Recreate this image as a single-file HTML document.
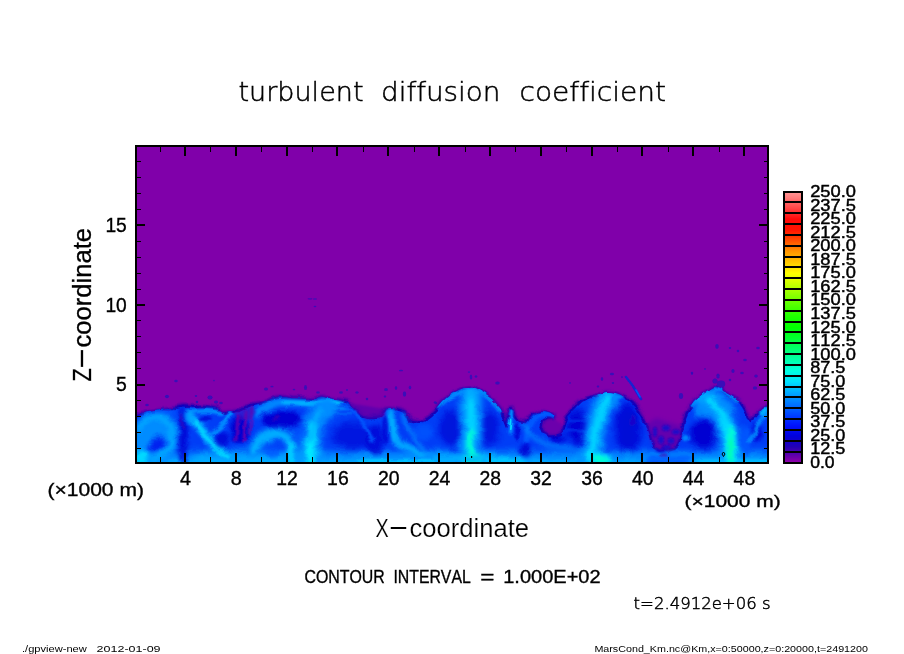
<!DOCTYPE html>
<html lang="en"><head><meta charset="utf-8"><title>turbulent diffusion coefficient</title>
<style>
html,body{margin:0;padding:0;background:#fff;}
body{width:904px;height:654px;overflow:hidden;}
svg{display:block;}
text{font-family:"Liberation Sans",sans-serif;fill:#000;}
text{font-variant-ligatures:none;font-kerning:none;}
.thin{font-family:"DejaVu Sans Light","DejaVu Sans","Liberation Sans",sans-serif;font-weight:200;}
</style>
</head><body>
<svg width="904" height="654" viewBox="0 0 904 654">
<rect x="0" y="0" width="904" height="654" fill="#fff"/>
<defs>
<clipPath id="plotclip"><rect x="136" y="146" width="632" height="317"/></clipPath>
<filter id="b1" filterUnits="userSpaceOnUse" x="120" y="140" width="664" height="340"><feGaussianBlur stdDeviation="1"/></filter>
<filter id="b2" filterUnits="userSpaceOnUse" x="120" y="140" width="664" height="340"><feGaussianBlur stdDeviation="2"/></filter>
<filter id="b3" filterUnits="userSpaceOnUse" x="120" y="140" width="664" height="340"><feGaussianBlur stdDeviation="3"/></filter>
<filter id="rag" filterUnits="userSpaceOnUse" x="130" y="330" width="644" height="140"><feTurbulence type="fractalNoise" baseFrequency="0.06 0.08" numOctaves="3" seed="7" result="n"/><feDisplacementMap in="SourceGraphic" in2="n" scale="6.5" xChannelSelector="R" yChannelSelector="G"/></filter>
<filter id="b05" filterUnits="userSpaceOnUse" x="120" y="140" width="664" height="340"><feGaussianBlur stdDeviation="0.6"/></filter>
<clipPath id="blueclip"><path d="M128,472 L128,414 L136,414 L142,413 L146,411.5 L152,410.5 L158,409.6 L165,408.6 L172,407.4 L178,406.5 L183,405.4 L192,406 L200.8,406.3 L208,407 L215,408 L223.8,411.6 L232.7,410.7 L239.7,409.8 L245,407.5 L250,405.4 L255,404.5 L261,403.6 L266,401.5 L271.6,399 L276,397.5 L280,396.5 L285,397 L290,398.3 L297.7,398.3 L306,398.8 L315.4,399 L319,397.5 L322.5,396.5 L327,397.8 L333,399 L340,400 L347,401 L350.5,404 L354,407 L357.5,410.5 L361,414 L365,416 L368.5,417 L374,417 L379,416 L382,412 L386,408 L390,407.5 L395,408 L400,409 L404,410.7 L407.5,415 L411,419.5 L416,420.5 L421.6,421 L426,419 L430,416 L434.5,411.5 L439,407 L443,402 L447.7,397.4 L452,394.5 L456.5,392 L461,390 L465.4,388.6 L469,388 L472.5,387.7 L478,390 L483,393 L487.5,396 L492,399 L496.5,404 L500.8,409 L503.5,415 L506,421.3 L508,416 L509.6,409 L511,406.5 L512.3,406 L513.5,410 L515,416 L517.5,419 L520,421 L523,421.5 L525.6,422 L529,418.5 L532.7,414 L536,412 L539.7,410.7 L545,411 L550,412.5 L553.5,415 L552.5,418 L547,418.5 L543,421 L541.5,427 L544,432 L549,435 L556,435.5 L561,433 L563.5,427 L565,420 L567.4,415.5 L569.5,413 L571.6,410.7 L576,406 L580,402 L584.5,399 L589,396.5 L593.5,395.5 L597.7,394.8 L602,393.2 L606.5,392 L611,392.3 L615.4,393 L620,394.5 L624,396.5 L628.5,399 L633,402 L636.5,406 L640,410.7 L643,416 L645.5,421 L648,426 L650.5,432 L652,440 L655,447 L660,449.5 L664,446.5 L668,449.5 L673,448 L677,444 L680,436 L681.5,428 L682.6,421 L686,412.5 L689.5,407 L693,402 L696.5,399 L700,396.5 L703.5,393.5 L707,391 L711,388 L714.5,386 L718,386.5 L721.6,387.7 L722.8,392 L727,394 L731.4,396.4 L736,399.5 L740,402.8 L743.5,408 L746.4,413.5 L748.5,417 L750.7,420 L753,418 L755,415.7 L758,412 L761.4,409 L764,407 L768,406 L776,406 L776,472 Z"/></clipPath>
</defs>
<g clip-path="url(#plotclip)">
<rect x="136" y="146" width="632" height="317" fill="#8000AA"/>
<g filter="url(#rag)">
<path d="M128,472 L128,414 L136,414 L142,413 L146,411.5 L152,410.5 L158,409.6 L165,408.6 L172,407.4 L178,406.5 L183,405.4 L192,406 L200.8,406.3 L208,407 L215,408 L223.8,411.6 L232.7,410.7 L239.7,409.8 L245,407.5 L250,405.4 L255,404.5 L261,403.6 L266,401.5 L271.6,399 L276,397.5 L280,396.5 L285,397 L290,398.3 L297.7,398.3 L306,398.8 L315.4,399 L319,397.5 L322.5,396.5 L327,397.8 L333,399 L340,400 L347,401 L350.5,404 L354,407 L357.5,410.5 L361,414 L365,416 L368.5,417 L374,417 L379,416 L382,412 L386,408 L390,407.5 L395,408 L400,409 L404,410.7 L407.5,415 L411,419.5 L416,420.5 L421.6,421 L426,419 L430,416 L434.5,411.5 L439,407 L443,402 L447.7,397.4 L452,394.5 L456.5,392 L461,390 L465.4,388.6 L469,388 L472.5,387.7 L478,390 L483,393 L487.5,396 L492,399 L496.5,404 L500.8,409 L503.5,415 L506,421.3 L508,416 L509.6,409 L511,406.5 L512.3,406 L513.5,410 L515,416 L517.5,419 L520,421 L523,421.5 L525.6,422 L529,418.5 L532.7,414 L536,412 L539.7,410.7 L545,411 L550,412.5 L553.5,415 L552.5,418 L547,418.5 L543,421 L541.5,427 L544,432 L549,435 L556,435.5 L561,433 L563.5,427 L565,420 L567.4,415.5 L569.5,413 L571.6,410.7 L576,406 L580,402 L584.5,399 L589,396.5 L593.5,395.5 L597.7,394.8 L602,393.2 L606.5,392 L611,392.3 L615.4,393 L620,394.5 L624,396.5 L628.5,399 L633,402 L636.5,406 L640,410.7 L643,416 L645.5,421 L648,426 L650.5,432 L652,440 L655,447 L660,449.5 L664,446.5 L668,449.5 L673,448 L677,444 L680,436 L681.5,428 L682.6,421 L686,412.5 L689.5,407 L693,402 L696.5,399 L700,396.5 L703.5,393.5 L707,391 L711,388 L714.5,386 L718,386.5 L721.6,387.7 L722.8,392 L727,394 L731.4,396.4 L736,399.5 L740,402.8 L743.5,408 L746.4,413.5 L748.5,417 L750.7,420 L753,418 L755,415.7 L758,412 L761.4,409 L764,407 L768,406 L776,406 L776,472 Z" fill="#2400B4" stroke="#3A00B0" stroke-width="3" stroke-linejoin="round" filter="url(#b1)"/>
<g clip-path="url(#blueclip)">
<path d="M128,472 L128,414 L136,414 L142,413 L146,411.5 L152,410.5 L158,409.6 L165,408.6 L172,407.4 L178,406.5 L183,405.4 L192,406 L200.8,406.3 L208,407 L215,408 L223.8,411.6 L232.7,410.7 L239.7,409.8 L245,407.5 L250,405.4 L255,404.5 L261,403.6 L266,401.5 L271.6,399 L276,397.5 L280,396.5 L285,397 L290,398.3 L297.7,398.3 L306,398.8 L315.4,399 L319,397.5 L322.5,396.5 L327,397.8 L333,399 L340,400 L347,401 L350.5,404 L354,407 L357.5,410.5 L361,414 L365,416 L368.5,417 L374,417 L379,416 L382,412 L386,408 L390,407.5 L395,408 L400,409 L404,410.7 L407.5,415 L411,419.5 L416,420.5 L421.6,421 L426,419 L430,416 L434.5,411.5 L439,407 L443,402 L447.7,397.4 L452,394.5 L456.5,392 L461,390 L465.4,388.6 L469,388 L472.5,387.7 L478,390 L483,393 L487.5,396 L492,399 L496.5,404 L500.8,409 L503.5,415 L506,421.3 L508,416 L509.6,409 L511,406.5 L512.3,406 L513.5,410 L515,416 L517.5,419 L520,421 L523,421.5 L525.6,422 L529,418.5 L532.7,414 L536,412 L539.7,410.7 L545,411 L550,412.5 L553.5,415 L552.5,418 L547,418.5 L543,421 L541.5,427 L544,432 L549,435 L556,435.5 L561,433 L563.5,427 L565,420 L567.4,415.5 L569.5,413 L571.6,410.7 L576,406 L580,402 L584.5,399 L589,396.5 L593.5,395.5 L597.7,394.8 L602,393.2 L606.5,392 L611,392.3 L615.4,393 L620,394.5 L624,396.5 L628.5,399 L633,402 L636.5,406 L640,410.7 L643,416 L645.5,421 L648,426 L650.5,432 L652,440 L655,447 L660,449.5 L664,446.5 L668,449.5 L673,448 L677,444 L680,436 L681.5,428 L682.6,421 L686,412.5 L689.5,407 L693,402 L696.5,399 L700,396.5 L703.5,393.5 L707,391 L711,388 L714.5,386 L718,386.5 L721.6,387.7 L722.8,392 L727,394 L731.4,396.4 L736,399.5 L740,402.8 L743.5,408 L746.4,413.5 L748.5,417 L750.7,420 L753,418 L755,415.7 L758,412 L761.4,409 L764,407 L768,406 L776,406 L776,472 Z" fill="#003CF6" stroke="#1800B8" stroke-width="4.5" filter="url(#b05)"/>
<path d="M128,457 L776,457" fill="none" stroke="#008CFF" stroke-width="11" stroke-linecap="round" stroke-linejoin="round" filter="url(#b3)" opacity="1"/>
<path d="M128,462.5 L640,462.5" fill="none" stroke="#00B0FF" stroke-width="6" stroke-linecap="round" stroke-linejoin="round" filter="url(#b2)" opacity="1"/>
<path d="M690,462.5 L776,462.5" fill="none" stroke="#00B0FF" stroke-width="6" stroke-linecap="round" stroke-linejoin="round" filter="url(#b2)" opacity="1"/>
<ellipse cx="156" cy="437" rx="23" ry="27" fill="#008CFF" filter="url(#b3)" opacity="1"/>
<path d="M139,430 Q142,418 158,416 Q172,420 172,440 Q170,456 152,459" fill="none" stroke="#00B0FF" stroke-width="5" stroke-linecap="round" stroke-linejoin="round" filter="url(#b2)" opacity="0.8"/>
<ellipse cx="156" cy="445" rx="10" ry="6" fill="#0024F0" filter="url(#b2)" opacity="1" transform="rotate(-35 156 445)"/>
<ellipse cx="141" cy="457" rx="7" ry="8" fill="#00D8FF" filter="url(#b2)" opacity="1"/>
<path d="M137,408 L141,408" fill="none" stroke="#00B0FF" stroke-width="3" stroke-linecap="round" stroke-linejoin="round" filter="url(#b1)" opacity="1"/>
<path d="M146,412 Q160,409 174,411" fill="none" stroke="#005AFF" stroke-width="4" stroke-linecap="round" stroke-linejoin="round" filter="url(#b2)" opacity="1"/>
<ellipse cx="183" cy="436" rx="4" ry="30" fill="#0004D2" filter="url(#b2)" opacity="0.85"/>
<path d="M181,415 L183,428" fill="none" stroke="#4A00B4" stroke-width="2" stroke-linecap="round" stroke-linejoin="round" filter="url(#b1)" opacity="0.7"/>
<path d="M190,413 Q204,409 222,413" fill="none" stroke="#008CFF" stroke-width="4" stroke-linecap="round" stroke-linejoin="round" filter="url(#b1)" opacity="1"/>
<path d="M189,415 Q203,428 212,444 Q222,455 240,459" fill="none" stroke="#008CFF" stroke-width="10" stroke-linecap="round" stroke-linejoin="round" filter="url(#b2)" opacity="1"/>
<path d="M190,416 Q204,430 213,445 Q221,452 230,455" fill="none" stroke="#00B0FF" stroke-width="5" stroke-linecap="round" stroke-linejoin="round" filter="url(#b2)" opacity="1"/>
<path d="M200,459 L300,459" fill="none" stroke="#00B0FF" stroke-width="8" stroke-linecap="round" stroke-linejoin="round" filter="url(#b3)" opacity="0.8"/>
<path d="M195,422 Q207,436 214,447 Q220,452 228,455" fill="none" stroke="#00D8FF" stroke-width="3.2" stroke-linecap="round" stroke-linejoin="round" filter="url(#b1)" opacity="0.95"/>
<path d="M230,413 Q225,425 213,433" fill="none" stroke="#008CFF" stroke-width="4.5" stroke-linecap="round" stroke-linejoin="round" filter="url(#b1)" opacity="1"/>
<ellipse cx="205" cy="419" rx="7" ry="3" fill="#0004D2" filter="url(#b1)" opacity="0.7"/>
<ellipse cx="222" cy="440" rx="7" ry="8" fill="#0004D2" filter="url(#b2)" opacity="0.8"/>
<ellipse cx="240" cy="430" rx="10" ry="14" fill="#0004D2" filter="url(#b2)" opacity="1"/>
<path d="M238,416 L236,440" fill="none" stroke="#8000AA" stroke-width="2.6" stroke-linecap="round" stroke-linejoin="round" filter="url(#b1)" opacity="0.8"/>
<path d="M246,412 L244,442" fill="none" stroke="#8000AA" stroke-width="2.8" stroke-linecap="round" stroke-linejoin="round" filter="url(#b1)" opacity="0.85"/>
<path d="M252,408 L250,434" fill="none" stroke="#8000AA" stroke-width="2.4" stroke-linecap="round" stroke-linejoin="round" filter="url(#b1)" opacity="0.7"/>
<path d="M258,414 Q268,404 282,402 Q300,402 312,404 L334,402" fill="none" stroke="#008CFF" stroke-width="7" stroke-linecap="round" stroke-linejoin="round" filter="url(#b2)" opacity="1"/>
<path d="M284,402.5 Q300,402 312,404 L336,402.5" fill="none" stroke="#00B0FF" stroke-width="3.5" stroke-linecap="round" stroke-linejoin="round" filter="url(#b1)" opacity="1"/>
<path d="M300,403.5 L340,403" fill="none" stroke="#00B0FF" stroke-width="2.5" stroke-linecap="round" stroke-linejoin="round" filter="url(#b1)" opacity="1"/>
<path d="M320,402.5 L343,402.5" fill="none" stroke="#00D8FF" stroke-width="2" stroke-linecap="round" stroke-linejoin="round" filter="url(#b1)" opacity="1"/>
<path d="M324,407 L345,407" fill="none" stroke="#00D8FF" stroke-width="1.5" stroke-linecap="round" stroke-linejoin="round" filter="url(#b1)" opacity="0.6"/>
<path d="M318,408 L350,408" fill="none" stroke="#008CFF" stroke-width="2.5" stroke-linecap="round" stroke-linejoin="round" filter="url(#b1)" opacity="0.8"/>
<path d="M322,413 L352,413" fill="none" stroke="#008CFF" stroke-width="2" stroke-linecap="round" stroke-linejoin="round" filter="url(#b1)" opacity="0.6"/>
<ellipse cx="282" cy="420" rx="21" ry="9" fill="#0004D2" filter="url(#b2)" opacity="1"/>
<ellipse cx="275" cy="417" rx="3" ry="2" fill="#4A00B4" filter="url(#b1)" opacity="0.6"/>
<path d="M254,450 Q260,436 276,433 Q290,434 293,447 L292,462" fill="none" stroke="#008CFF" stroke-width="11" stroke-linecap="round" stroke-linejoin="round" filter="url(#b3)" opacity="1"/>
<path d="M254,450 Q260,436 276,433 Q290,434 293,447 L292,462" fill="none" stroke="#00B0FF" stroke-width="6.5" stroke-linecap="round" stroke-linejoin="round" filter="url(#b2)" opacity="1"/>
<path d="M292.5,444 L291,462" fill="none" stroke="#00D8FF" stroke-width="4.5" stroke-linecap="round" stroke-linejoin="round" filter="url(#b2)" opacity="1"/>
<ellipse cx="272" cy="452" rx="7" ry="5" fill="#005AFF" filter="url(#b2)" opacity="0.8"/>
<path d="M310,462 Q310,436 316,420 Q320,412 327,408" fill="none" stroke="#008CFF" stroke-width="21" stroke-linecap="round" stroke-linejoin="round" filter="url(#b3)" opacity="1"/>
<path d="M310,462 L310,440" fill="none" stroke="#00B0FF" stroke-width="14" stroke-linecap="round" stroke-linejoin="round" filter="url(#b3)" opacity="1"/>
<path d="M310,464 Q310.5,440 312,426" fill="none" stroke="#00D8FF" stroke-width="9" stroke-linecap="round" stroke-linejoin="round" filter="url(#b2)" opacity="1"/>
<path d="M310,464 L310,444" fill="none" stroke="#00F0FF" stroke-width="4" stroke-linecap="round" stroke-linejoin="round" filter="url(#b2)" opacity="1"/>
<path d="M310.5,438 Q312,424 320,412" fill="none" stroke="#00B0FF" stroke-width="4" stroke-linecap="round" stroke-linejoin="round" filter="url(#b2)" opacity="1"/>
<ellipse cx="300" cy="432" rx="5" ry="10" fill="#005AFF" filter="url(#b2)" opacity="0.6"/>
<ellipse cx="352" cy="436" rx="20" ry="14" fill="#0004D2" filter="url(#b3)" opacity="0.6"/>
<ellipse cx="375" cy="440" rx="9" ry="16" fill="#0004D2" filter="url(#b2)" opacity="0.75"/>
<path d="M348,404 Q362,420 374,440" fill="none" stroke="#005AFF" stroke-width="3.5" stroke-linecap="round" stroke-linejoin="round" filter="url(#b1)" opacity="0.9"/>
<path d="M391,411 Q391,432 397,442 Q410,452 432,456" fill="none" stroke="#008CFF" stroke-width="8" stroke-linecap="round" stroke-linejoin="round" filter="url(#b2)" opacity="1"/>
<path d="M391.5,413 Q391.5,432 397,442 Q408,451 424,455" fill="none" stroke="#00B0FF" stroke-width="4" stroke-linecap="round" stroke-linejoin="round" filter="url(#b2)" opacity="1"/>
<path d="M392,420 L393,440" fill="none" stroke="#00B0FF" stroke-width="2.5" stroke-linecap="round" stroke-linejoin="round" filter="url(#b1)" opacity="0.8"/>
<path d="M404,414 Q407,432 424,448" fill="none" stroke="#008CFF" stroke-width="4" stroke-linecap="round" stroke-linejoin="round" filter="url(#b2)" opacity="0.9"/>
<ellipse cx="385" cy="430" rx="3" ry="14" fill="#0004D2" filter="url(#b1)" opacity="0.7"/>
<ellipse cx="424" cy="432" rx="10" ry="7" fill="#005AFF" filter="url(#b2)" opacity="0.7"/>
<path d="M360,461.5 L434,461.5" fill="none" stroke="#00D8FF" stroke-width="2.5" stroke-linecap="round" stroke-linejoin="round" filter="url(#b1)" opacity="0.8"/>
<ellipse cx="452" cy="428" rx="13" ry="18" fill="#0004D2" filter="url(#b3)" opacity="0.7"/>
<ellipse cx="489" cy="428" rx="10" ry="18" fill="#0004D2" filter="url(#b3)" opacity="0.7"/>
<path d="M439,407 Q450,396 462,392.5" fill="none" stroke="#008CFF" stroke-width="4" stroke-linecap="round" stroke-linejoin="round" filter="url(#b1)" opacity="1"/>
<path d="M480,392.5 Q492,398 501,411" fill="none" stroke="#008CFF" stroke-width="4" stroke-linecap="round" stroke-linejoin="round" filter="url(#b1)" opacity="1"/>
<path d="M471,462 L471,396" fill="none" stroke="#008CFF" stroke-width="22" stroke-linecap="round" stroke-linejoin="round" filter="url(#b3)" opacity="1"/>
<path d="M471,462 L471,394" fill="none" stroke="#00B0FF" stroke-width="11" stroke-linecap="round" stroke-linejoin="round" filter="url(#b3)" opacity="1"/>
<path d="M471,462 L471,402" fill="none" stroke="#00D8FF" stroke-width="6" stroke-linecap="round" stroke-linejoin="round" filter="url(#b2)" opacity="1"/>
<path d="M471,462 L471,432" fill="none" stroke="#00FFD2" stroke-width="5.5" stroke-linecap="round" stroke-linejoin="round" filter="url(#b2)" opacity="1"/>
<ellipse cx="472" cy="459" rx="11" ry="5.5" fill="#00FFD2" filter="url(#b2)" opacity="1"/>
<ellipse cx="472" cy="460" rx="6" ry="3.5" fill="#00FFB4" filter="url(#b2)" opacity="1"/>
<path d="M436,458.5 L506,458.5" fill="none" stroke="#00B0FF" stroke-width="6" stroke-linecap="round" stroke-linejoin="round" filter="url(#b2)" opacity="1"/>
<path d="M488,461 L522,461" fill="none" stroke="#00D8FF" stroke-width="3.5" stroke-linecap="round" stroke-linejoin="round" filter="url(#b2)" opacity="1"/>
<path d="M511.5,411 L509.5,434" fill="none" stroke="#008CFF" stroke-width="3.5" stroke-linecap="round" stroke-linejoin="round" filter="url(#b1)" opacity="1"/>
<path d="M510.5,420 L509.8,430" fill="none" stroke="#00D8FF" stroke-width="1.8" stroke-linecap="round" stroke-linejoin="round" filter="url(#b05)" opacity="1"/>
<ellipse cx="525" cy="450" rx="5" ry="7" fill="#0004D2" filter="url(#b2)" opacity="0.9"/>
<ellipse cx="517" cy="432" rx="3" ry="9" fill="#0004D2" filter="url(#b1)" opacity="0.8"/>
<path d="M527,440 Q530,420 539,414 Q547,412 554,416" fill="none" stroke="#005AFF" stroke-width="5" stroke-linecap="round" stroke-linejoin="round" filter="url(#b1)" opacity="1"/>
<path d="M524,426 Q535,442 550,446 L582,449" fill="none" stroke="#008CFF" stroke-width="4" stroke-linecap="round" stroke-linejoin="round" filter="url(#b2)" opacity="0.8"/>
<ellipse cx="558" cy="438" rx="8" ry="5" fill="#0004D2" filter="url(#b2)" opacity="0.8"/>
<ellipse cx="578" cy="428" rx="11" ry="18" fill="#0004D2" filter="url(#b3)" opacity="0.95"/>
<path d="M570,420 L588,420" fill="none" stroke="#005AFF" stroke-width="2" stroke-linecap="round" stroke-linejoin="round" filter="url(#b1)" opacity="0.6"/>
<path d="M568,432 L590,432" fill="none" stroke="#005AFF" stroke-width="2" stroke-linecap="round" stroke-linejoin="round" filter="url(#b1)" opacity="0.6"/>
<path d="M590,462 Q593,440 599,416 Q603,403 609,395" fill="none" stroke="#008CFF" stroke-width="20" stroke-linecap="round" stroke-linejoin="round" filter="url(#b3)" opacity="1"/>
<path d="M590,462 Q593,440 599,416 Q603,403 609,395" fill="none" stroke="#00B0FF" stroke-width="10" stroke-linecap="round" stroke-linejoin="round" filter="url(#b3)" opacity="1"/>
<path d="M591,456 Q594,438 599.5,416 Q603.5,403 608.5,397" fill="none" stroke="#00D8FF" stroke-width="5.5" stroke-linecap="round" stroke-linejoin="round" filter="url(#b2)" opacity="1"/>
<ellipse cx="598" cy="458" rx="13" ry="6" fill="#00D8FF" filter="url(#b2)" opacity="1"/>
<ellipse cx="601" cy="459.5" rx="8" ry="4" fill="#00FFD2" filter="url(#b2)" opacity="1"/>
<path d="M613,399 Q617,395 622,397" fill="none" stroke="#008CFF" stroke-width="3.5" stroke-linecap="round" stroke-linejoin="round" filter="url(#b1)" opacity="1"/>
<path d="M614,396 L619,409" fill="none" stroke="#008CFF" stroke-width="4" stroke-linecap="round" stroke-linejoin="round" filter="url(#b2)" opacity="0.8"/>
<ellipse cx="628" cy="428" rx="13" ry="24" fill="#0004D2" filter="url(#b3)" opacity="0.85"/>
<ellipse cx="632" cy="420" rx="3" ry="6" fill="#4A00B4" filter="url(#b1)" opacity="0.35"/>
<ellipse cx="661" cy="450" rx="5" ry="2.5" fill="#0004D2" filter="url(#b1)" opacity="0.8"/>
<path d="M650,459 L690,459" fill="none" stroke="#005AFF" stroke-width="5" stroke-linecap="round" stroke-linejoin="round" filter="url(#b2)" opacity="1"/>
<ellipse cx="664" cy="455" rx="4" ry="1.5" fill="#4A00B4" filter="url(#b1)" opacity="0.7"/>
<path d="M691,406 Q702,395 714,389 Q725,390 737,401" fill="none" stroke="#008CFF" stroke-width="4" stroke-linecap="round" stroke-linejoin="round" filter="url(#b1)" opacity="1"/>
<ellipse cx="703" cy="410" rx="10" ry="7" fill="#008CFF" filter="url(#b2)" opacity="0.9"/>
<ellipse cx="704" cy="434" rx="14" ry="15" fill="#0004D2" filter="url(#b3)" opacity="1"/>
<ellipse cx="686" cy="438" rx="4" ry="3" fill="#008CFF" filter="url(#b1)" opacity="0.9"/>
<path d="M731,462 Q731,436 723,416 Q715,402 702,397" fill="none" stroke="#008CFF" stroke-width="22" stroke-linecap="round" stroke-linejoin="round" filter="url(#b3)" opacity="1"/>
<path d="M731,462 Q731,436 723,416 Q715,402 702,397" fill="none" stroke="#00B0FF" stroke-width="11" stroke-linecap="round" stroke-linejoin="round" filter="url(#b3)" opacity="1"/>
<ellipse cx="716" cy="405" rx="16" ry="9" fill="#008CFF" filter="url(#b3)" opacity="0.9"/>
<path d="M731,462 Q731,436 724,417 Q716,404 709,400" fill="none" stroke="#00D8FF" stroke-width="6.5" stroke-linecap="round" stroke-linejoin="round" filter="url(#b2)" opacity="1"/>
<path d="M731,464 Q731,440 727,426" fill="none" stroke="#00D8FF" stroke-width="10" stroke-linecap="round" stroke-linejoin="round" filter="url(#b2)" opacity="1"/>
<path d="M731,464 L730.5,430" fill="none" stroke="#00FFD2" stroke-width="6" stroke-linecap="round" stroke-linejoin="round" filter="url(#b2)" opacity="1"/>
<path d="M730.5,464 L730.5,440" fill="none" stroke="#00FFA8" stroke-width="3.5" stroke-linecap="round" stroke-linejoin="round" filter="url(#b2)" opacity="1"/>
<path d="M700,461.5 L768,461.5" fill="none" stroke="#00D8FF" stroke-width="3" stroke-linecap="round" stroke-linejoin="round" filter="url(#b2)" opacity="0.9"/>
<ellipse cx="746" cy="440" rx="6" ry="14" fill="#005AFF" filter="url(#b2)" opacity="0.8"/>
<ellipse cx="757" cy="432" rx="6" ry="8" fill="#0004D2" filter="url(#b2)" opacity="0.8"/>
<ellipse cx="764.5" cy="411" rx="4" ry="4.5" fill="#00B0FF" filter="url(#b1)" opacity="1"/>
<path d="M750,440 Q758,425 767,413" fill="none" stroke="#008CFF" stroke-width="4" stroke-linecap="round" stroke-linejoin="round" filter="url(#b1)" opacity="0.9"/>
</g>
</g>
<path d="M349,403 L385,409 L385,416 L379,418 L366,419 L358,413 Z" fill="#5200B0" opacity="0.7" filter="url(#b1)"/>
<path d="M543,421 L552,419 L562,424 L562,433 L549,435 L543,431 Z" fill="#6000AE" opacity="0.6" filter="url(#b1)"/>
<path d="M647,424 L656,418 L668,422 L681,426 L679,440 L672,449 L658,450 L652,442 Z" fill="#5A00B0" opacity="0.75" filter="url(#b2)"/>
<ellipse cx="666" cy="428" rx="4" ry="3" fill="#1408CC" filter="url(#b1)" opacity="0.9"/>
<ellipse cx="676" cy="432" rx="4" ry="2.5" fill="#1408CC" filter="url(#b1)" opacity="0.9"/>
<ellipse cx="661" cy="440" rx="3" ry="4" fill="#1408CC" filter="url(#b1)" opacity="0.9"/>
<ellipse cx="671" cy="441" rx="3.5" ry="3" fill="#1408CC" filter="url(#b1)" opacity="0.9"/>
<ellipse cx="655" cy="432" rx="2" ry="5" fill="#1408CC" filter="url(#b1)" opacity="0.9"/>
<ellipse cx="667" cy="447" rx="4" ry="2" fill="#1408CC" filter="url(#b1)" opacity="0.9"/>
<path d="M234,412 L252,406 L256,412 L250,420 L238,420 Z" fill="#5A00B0" opacity="0.5" filter="url(#b1)"/>
<ellipse cx="176" cy="381" rx="1.87" ry="1.36" fill="#3A0CB8" filter="url(#b05)"/>
<ellipse cx="214" cy="380.5" rx="0.85" ry="0.85" fill="#3A0CB8" filter="url(#b05)"/>
<ellipse cx="167" cy="396.5" rx="2.12" ry="1.7" fill="#3A0CB8" filter="url(#b05)"/>
<ellipse cx="196" cy="396" rx="1.27" ry="1.02" fill="#3A0CB8" filter="url(#b05)"/>
<ellipse cx="210" cy="397.5" rx="2.55" ry="2.12" fill="#3A0CB8" filter="url(#b05)"/>
<ellipse cx="216" cy="402" rx="2.12" ry="1.53" fill="#3A0CB8" filter="url(#b05)"/>
<ellipse cx="221" cy="403" rx="1.7" ry="1.27" fill="#3A0CB8" filter="url(#b05)"/>
<ellipse cx="197" cy="402" rx="1.27" ry="1.27" fill="#3A0CB8" filter="url(#b05)"/>
<ellipse cx="147" cy="405" rx="1.7" ry="1.36" fill="#3A0CB8" filter="url(#b05)"/>
<ellipse cx="266" cy="389" rx="2.12" ry="1.53" fill="#3A0CB8" filter="url(#b05)"/>
<ellipse cx="272" cy="386.5" rx="1.53" ry="0.85" fill="#3A0CB8" filter="url(#b05)"/>
<ellipse cx="305.5" cy="387.5" rx="1.53" ry="2.55" fill="#3A0CB8" filter="url(#b05)"/>
<ellipse cx="294" cy="389.5" rx="1.27" ry="0.85" fill="#3A0CB8" filter="url(#b05)"/>
<ellipse cx="318" cy="392.5" rx="1.7" ry="1.27" fill="#3A0CB8" filter="url(#b05)"/>
<ellipse cx="341" cy="392.5" rx="1.87" ry="1.27" fill="#3A0CB8" filter="url(#b05)"/>
<ellipse cx="347" cy="390" rx="1.02" ry="1.02" fill="#3A0CB8" filter="url(#b05)"/>
<ellipse cx="357" cy="392.5" rx="1.53" ry="1.27" fill="#3A0CB8" filter="url(#b05)"/>
<ellipse cx="367" cy="399" rx="1.27" ry="1.27" fill="#3A0CB8" filter="url(#b05)"/>
<ellipse cx="386" cy="389.5" rx="1.87" ry="1.53" fill="#3A0CB8" filter="url(#b05)"/>
<ellipse cx="396" cy="388" rx="1.27" ry="1.7" fill="#3A0CB8" filter="url(#b05)"/>
<ellipse cx="404.5" cy="394" rx="1.7" ry="2.72" fill="#3A0CB8" filter="url(#b05)"/>
<ellipse cx="410" cy="387.5" rx="1.27" ry="1.87" fill="#3A0CB8" filter="url(#b05)"/>
<ellipse cx="385" cy="396.5" rx="1.27" ry="1.02" fill="#3A0CB8" filter="url(#b05)"/>
<ellipse cx="401" cy="370.5" rx="2.12" ry="0.85" fill="#3A0CB8" filter="url(#b05)"/>
<ellipse cx="435" cy="402.5" rx="1.27" ry="1.27" fill="#3A0CB8" filter="url(#b05)"/>
<ellipse cx="471" cy="377" rx="1.27" ry="2.55" fill="#3A0CB8" filter="url(#b05)"/>
<ellipse cx="476" cy="376.5" rx="1.27" ry="1.27" fill="#3A0CB8" filter="url(#b05)"/>
<ellipse cx="497.5" cy="383" rx="2.38" ry="1.53" fill="#3A0CB8" filter="url(#b05)"/>
<ellipse cx="469" cy="372" rx="1.27" ry="0.85" fill="#3A0CB8" filter="url(#b05)"/>
<ellipse cx="570" cy="383" rx="1.02" ry="0.85" fill="#3A0CB8" filter="url(#b05)"/>
<ellipse cx="436" cy="403" rx="1.27" ry="1.27" fill="#3A0CB8" filter="url(#b05)"/>
<ellipse cx="612" cy="374" rx="2.12" ry="1.27" fill="#3A0CB8" filter="url(#b05)"/>
<ellipse cx="602" cy="379" rx="1.27" ry="1.7" fill="#3A0CB8" filter="url(#b05)"/>
<ellipse cx="613" cy="383" rx="1.27" ry="1.02" fill="#3A0CB8" filter="url(#b05)"/>
<ellipse cx="598" cy="386.5" rx="1.27" ry="1.02" fill="#3A0CB8" filter="url(#b05)"/>
<ellipse cx="681" cy="396" rx="2.12" ry="2.98" fill="#3A0CB8" filter="url(#b05)"/>
<ellipse cx="692" cy="373" rx="1.27" ry="1.27" fill="#3A0CB8" filter="url(#b05)"/>
<ellipse cx="717" cy="346.5" rx="1.7" ry="2.38" fill="#3A0CB8" filter="url(#b05)"/>
<ellipse cx="730" cy="348" rx="1.27" ry="1.02" fill="#3A0CB8" filter="url(#b05)"/>
<ellipse cx="738" cy="351" rx="1.27" ry="1.27" fill="#3A0CB8" filter="url(#b05)"/>
<ellipse cx="733" cy="371" rx="1.53" ry="2.12" fill="#3A0CB8" filter="url(#b05)"/>
<ellipse cx="742" cy="373" rx="1.7" ry="1.27" fill="#3A0CB8" filter="url(#b05)"/>
<ellipse cx="756" cy="376" rx="1.7" ry="1.53" fill="#3A0CB8" filter="url(#b05)"/>
<ellipse cx="755" cy="388" rx="2.12" ry="1.7" fill="#3A0CB8" filter="url(#b05)"/>
<ellipse cx="730" cy="380" rx="1.27" ry="1.27" fill="#3A0CB8" filter="url(#b05)"/>
<ellipse cx="718" cy="376" rx="1.7" ry="2.55" fill="#3A0CB8" filter="url(#b05)"/>
<ellipse cx="705" cy="369" rx="1.02" ry="0.85" fill="#3A0CB8" filter="url(#b05)"/>
<ellipse cx="692" cy="374" rx="1.02" ry="0.85" fill="#3A0CB8" filter="url(#b05)"/>
<ellipse cx="721" cy="384" rx="4.25" ry="3.4" fill="#3A0CB8" filter="url(#b05)"/>
<ellipse cx="715" cy="381" rx="2.55" ry="2.55" fill="#3A0CB8" filter="url(#b05)"/>
<ellipse cx="315" cy="299" rx="1.87" ry="0.77" fill="#3A0CB8" filter="url(#b05)"/>
<ellipse cx="310" cy="298.8" rx="2.55" ry="0.59" fill="#3A0CB8" filter="url(#b05)"/>
<ellipse cx="315" cy="306.5" rx="1.36" ry="0.68" fill="#3A0CB8" filter="url(#b05)"/>
<ellipse cx="622" cy="377" rx="0.85" ry="0.85" fill="#3A0CB8" filter="url(#b05)"/>
<ellipse cx="758" cy="348" rx="1.7" ry="1.27" fill="#3A0CB8" filter="url(#b05)"/>
<ellipse cx="745" cy="360" rx="1.7" ry="1.27" fill="#3A0CB8" filter="url(#b05)"/>
<path d="M626,377 Q633,385 639,396 L641,399" fill="none" stroke="#1820D0" stroke-width="2.5" stroke-linecap="round" filter="url(#b05)"/>
<path d="M636,390 L640,397" fill="none" stroke="#0050FF" stroke-width="1.6" stroke-linecap="round" filter="url(#b05)"/>
<path d="M723.5,452 L725,454 L723.5,456.5 L722,454 Z" fill="none" stroke="#000" stroke-width="1"/>
<rect x="471" y="456" width="1.2" height="2" fill="#000"/>
</g>
<g shape-rendering="crispEdges" fill="#000">
<rect x="135" y="145" width="634" height="2"/>
<rect x="135" y="462" width="634" height="2"/>
<rect x="135" y="145" width="2" height="319"/>
<rect x="767" y="145" width="2" height="319"/>
<rect x="160" y="147" width="1" height="5"/>
<rect x="160" y="457" width="1" height="5"/>
<rect x="184" y="147" width="2" height="9"/>
<rect x="184" y="453" width="2" height="9"/>
<rect x="210" y="147" width="1" height="5"/>
<rect x="210" y="457" width="1" height="5"/>
<rect x="235" y="147" width="2" height="9"/>
<rect x="235" y="453" width="2" height="9"/>
<rect x="261" y="147" width="1" height="5"/>
<rect x="261" y="457" width="1" height="5"/>
<rect x="286" y="147" width="2" height="9"/>
<rect x="286" y="453" width="2" height="9"/>
<rect x="312" y="147" width="1" height="5"/>
<rect x="312" y="457" width="1" height="5"/>
<rect x="336" y="147" width="2" height="9"/>
<rect x="336" y="453" width="2" height="9"/>
<rect x="363" y="147" width="1" height="5"/>
<rect x="363" y="457" width="1" height="5"/>
<rect x="387" y="147" width="2" height="9"/>
<rect x="387" y="453" width="2" height="9"/>
<rect x="414" y="147" width="1" height="5"/>
<rect x="414" y="457" width="1" height="5"/>
<rect x="438" y="147" width="2" height="9"/>
<rect x="438" y="453" width="2" height="9"/>
<rect x="465" y="147" width="1" height="5"/>
<rect x="465" y="457" width="1" height="5"/>
<rect x="489" y="147" width="2" height="9"/>
<rect x="489" y="453" width="2" height="9"/>
<rect x="515" y="147" width="1" height="5"/>
<rect x="515" y="457" width="1" height="5"/>
<rect x="540" y="147" width="2" height="9"/>
<rect x="540" y="453" width="2" height="9"/>
<rect x="566" y="147" width="1" height="5"/>
<rect x="566" y="457" width="1" height="5"/>
<rect x="591" y="147" width="2" height="9"/>
<rect x="591" y="453" width="2" height="9"/>
<rect x="617" y="147" width="1" height="5"/>
<rect x="617" y="457" width="1" height="5"/>
<rect x="641" y="147" width="2" height="9"/>
<rect x="641" y="453" width="2" height="9"/>
<rect x="668" y="147" width="1" height="5"/>
<rect x="668" y="457" width="1" height="5"/>
<rect x="692" y="147" width="2" height="9"/>
<rect x="692" y="453" width="2" height="9"/>
<rect x="719" y="147" width="1" height="5"/>
<rect x="719" y="457" width="1" height="5"/>
<rect x="743" y="147" width="2" height="9"/>
<rect x="743" y="453" width="2" height="9"/>
<rect x="137" y="448" width="4" height="1"/>
<rect x="764" y="448" width="3" height="1"/>
<rect x="137" y="432" width="4" height="1"/>
<rect x="764" y="432" width="3" height="1"/>
<rect x="137" y="416" width="4" height="1"/>
<rect x="764" y="416" width="3" height="1"/>
<rect x="137" y="400" width="4" height="1"/>
<rect x="764" y="400" width="3" height="1"/>
<rect x="137" y="384" width="8" height="2"/>
<rect x="759" y="384" width="8" height="2"/>
<rect x="137" y="368" width="4" height="1"/>
<rect x="764" y="368" width="3" height="1"/>
<rect x="137" y="352" width="4" height="1"/>
<rect x="764" y="352" width="3" height="1"/>
<rect x="137" y="336" width="4" height="1"/>
<rect x="764" y="336" width="3" height="1"/>
<rect x="137" y="320" width="4" height="1"/>
<rect x="764" y="320" width="3" height="1"/>
<rect x="137" y="304" width="8" height="2"/>
<rect x="759" y="304" width="8" height="2"/>
<rect x="137" y="289" width="4" height="1"/>
<rect x="764" y="289" width="3" height="1"/>
<rect x="137" y="273" width="4" height="1"/>
<rect x="764" y="273" width="3" height="1"/>
<rect x="137" y="257" width="4" height="1"/>
<rect x="764" y="257" width="3" height="1"/>
<rect x="137" y="241" width="4" height="1"/>
<rect x="764" y="241" width="3" height="1"/>
<rect x="137" y="224" width="8" height="2"/>
<rect x="759" y="224" width="8" height="2"/>
<rect x="137" y="209" width="4" height="1"/>
<rect x="764" y="209" width="3" height="1"/>
<rect x="137" y="193" width="4" height="1"/>
<rect x="764" y="193" width="3" height="1"/>
<rect x="137" y="177" width="4" height="1"/>
<rect x="764" y="177" width="3" height="1"/>
<rect x="137" y="161" width="4" height="1"/>
<rect x="764" y="161" width="3" height="1"/>
</g>
<g shape-rendering="crispEdges">
<rect x="784" y="192" width="18" height="1" fill="rgb(255, 148, 148)"/>
<rect x="784" y="193" width="18" height="1" fill="rgb(255, 143, 143)"/>
<rect x="784" y="194" width="18" height="1" fill="rgb(255, 138, 138)"/>
<rect x="784" y="195" width="18" height="1" fill="rgb(255, 134, 134)"/>
<rect x="784" y="196" width="18" height="1" fill="rgb(255, 129, 129)"/>
<rect x="784" y="197" width="18" height="1" fill="rgb(255, 125, 125)"/>
<rect x="784" y="198" width="18" height="1" fill="rgb(255, 120, 120)"/>
<rect x="784" y="199" width="18" height="1" fill="rgb(255, 114, 114)"/>
<rect x="784" y="200" width="18" height="1" fill="rgb(255, 109, 109)"/>
<rect x="784" y="201" width="18" height="1" fill="rgb(255, 104, 104)"/>
<rect x="784" y="202" width="18" height="1" fill="rgb(255, 99, 99)"/>
<rect x="784" y="203" width="18" height="1" fill="rgb(255, 94, 94)"/>
<rect x="784" y="204" width="18" height="1" fill="rgb(255, 89, 89)"/>
<rect x="784" y="205" width="18" height="1" fill="rgb(255, 84, 84)"/>
<rect x="784" y="206" width="18" height="1" fill="rgb(255, 79, 79)"/>
<rect x="784" y="207" width="18" height="1" fill="rgb(255, 74, 74)"/>
<rect x="784" y="208" width="18" height="1" fill="rgb(255, 69, 69)"/>
<rect x="784" y="209" width="18" height="1" fill="rgb(255, 63, 63)"/>
<rect x="784" y="210" width="18" height="1" fill="rgb(255, 58, 58)"/>
<rect x="784" y="211" width="18" height="1" fill="rgb(255, 52, 52)"/>
<rect x="784" y="212" width="18" height="1" fill="rgb(255, 47, 47)"/>
<rect x="784" y="213" width="18" height="1" fill="rgb(255, 41, 41)"/>
<rect x="784" y="214" width="18" height="1" fill="rgb(255, 35, 35)"/>
<rect x="784" y="215" width="18" height="1" fill="rgb(255, 30, 30)"/>
<rect x="784" y="216" width="18" height="1" fill="rgb(255, 24, 24)"/>
<rect x="784" y="217" width="18" height="1" fill="rgb(255, 19, 19)"/>
<rect x="784" y="218" width="18" height="1" fill="rgb(255, 13, 13)"/>
<rect x="784" y="219" width="18" height="1" fill="rgb(255, 10, 10)"/>
<rect x="784" y="220" width="18" height="1" fill="rgb(255, 11, 9)"/>
<rect x="784" y="221" width="18" height="1" fill="rgb(255, 12, 8)"/>
<rect x="784" y="222" width="18" height="1" fill="rgb(255, 13, 7)"/>
<rect x="784" y="223" width="18" height="1" fill="rgb(255, 14, 6)"/>
<rect x="784" y="224" width="18" height="1" fill="rgb(255, 15, 5)"/>
<rect x="784" y="225" width="18" height="1" fill="rgb(255, 16, 4)"/>
<rect x="784" y="226" width="18" height="1" fill="rgb(255, 17, 3)"/>
<rect x="784" y="227" width="18" height="1" fill="rgb(255, 18, 2)"/>
<rect x="784" y="228" width="18" height="1" fill="rgb(255, 19, 1)"/>
<rect x="784" y="229" width="18" height="1" fill="rgb(255, 20, 0)"/>
<rect x="784" y="230" width="18" height="1" fill="rgb(255, 23, 0)"/>
<rect x="784" y="231" width="18" height="1" fill="rgb(255, 29, 0)"/>
<rect x="784" y="232" width="18" height="1" fill="rgb(255, 34, 0)"/>
<rect x="784" y="233" width="18" height="1" fill="rgb(255, 40, 0)"/>
<rect x="784" y="234" width="18" height="1" fill="rgb(255, 45, 0)"/>
<rect x="784" y="235" width="18" height="1" fill="rgb(255, 51, 0)"/>
<rect x="784" y="236" width="18" height="1" fill="rgb(255, 56, 0)"/>
<rect x="784" y="237" width="18" height="1" fill="rgb(255, 62, 0)"/>
<rect x="784" y="238" width="18" height="1" fill="rgb(255, 67, 0)"/>
<rect x="784" y="239" width="18" height="1" fill="rgb(255, 73, 0)"/>
<rect x="784" y="240" width="18" height="1" fill="rgb(255, 78, 0)"/>
<rect x="784" y="241" width="18" height="1" fill="rgb(255, 85, 0)"/>
<rect x="784" y="242" width="18" height="1" fill="rgb(255, 91, 0)"/>
<rect x="784" y="243" width="18" height="1" fill="rgb(255, 98, 0)"/>
<rect x="784" y="244" width="18" height="1" fill="rgb(255, 104, 0)"/>
<rect x="784" y="245" width="18" height="1" fill="rgb(255, 110, 0)"/>
<rect x="784" y="246" width="18" height="1" fill="rgb(255, 117, 0)"/>
<rect x="784" y="247" width="18" height="1" fill="rgb(255, 123, 0)"/>
<rect x="784" y="248" width="18" height="1" fill="rgb(255, 130, 0)"/>
<rect x="784" y="249" width="18" height="1" fill="rgb(255, 136, 0)"/>
<rect x="784" y="250" width="18" height="1" fill="rgb(255, 143, 0)"/>
<rect x="784" y="251" width="18" height="1" fill="rgb(255, 149, 0)"/>
<rect x="784" y="252" width="18" height="1" fill="rgb(255, 154, 0)"/>
<rect x="784" y="253" width="18" height="1" fill="rgb(255, 159, 0)"/>
<rect x="784" y="254" width="18" height="1" fill="rgb(255, 163, 0)"/>
<rect x="784" y="255" width="18" height="1" fill="rgb(255, 168, 0)"/>
<rect x="784" y="256" width="18" height="1" fill="rgb(255, 173, 0)"/>
<rect x="784" y="257" width="18" height="1" fill="rgb(255, 177, 0)"/>
<rect x="784" y="258" width="18" height="1" fill="rgb(255, 182, 0)"/>
<rect x="784" y="259" width="18" height="1" fill="rgb(255, 186, 0)"/>
<rect x="784" y="260" width="18" height="1" fill="rgb(255, 191, 0)"/>
<rect x="784" y="261" width="18" height="1" fill="rgb(255, 196, 0)"/>
<rect x="784" y="262" width="18" height="1" fill="rgb(255, 200, 0)"/>
<rect x="784" y="263" width="18" height="1" fill="rgb(255, 205, 0)"/>
<rect x="784" y="264" width="18" height="1" fill="rgb(255, 210, 0)"/>
<rect x="784" y="265" width="18" height="1" fill="rgb(255, 215, 0)"/>
<rect x="784" y="266" width="18" height="1" fill="rgb(255, 220, 0)"/>
<rect x="784" y="267" width="18" height="1" fill="rgb(255, 226, 0)"/>
<rect x="784" y="268" width="18" height="1" fill="rgb(255, 231, 0)"/>
<rect x="784" y="269" width="18" height="1" fill="rgb(255, 236, 0)"/>
<rect x="784" y="270" width="18" height="1" fill="rgb(255, 241, 0)"/>
<rect x="784" y="271" width="18" height="1" fill="rgb(255, 246, 0)"/>
<rect x="784" y="272" width="18" height="1" fill="rgb(255, 251, 0)"/>
<rect x="784" y="273" width="18" height="1" fill="rgb(254, 255, 0)"/>
<rect x="784" y="274" width="18" height="1" fill="rgb(249, 255, 0)"/>
<rect x="784" y="275" width="18" height="1" fill="rgb(244, 255, 0)"/>
<rect x="784" y="276" width="18" height="1" fill="rgb(239, 255, 0)"/>
<rect x="784" y="277" width="18" height="1" fill="rgb(234, 255, 0)"/>
<rect x="784" y="278" width="18" height="1" fill="rgb(229, 255, 0)"/>
<rect x="784" y="279" width="18" height="1" fill="rgb(224, 255, 0)"/>
<rect x="784" y="280" width="18" height="1" fill="rgb(218, 255, 0)"/>
<rect x="784" y="281" width="18" height="1" fill="rgb(213, 255, 0)"/>
<rect x="784" y="282" width="18" height="1" fill="rgb(208, 255, 0)"/>
<rect x="784" y="283" width="18" height="1" fill="rgb(203, 255, 0)"/>
<rect x="784" y="284" width="18" height="1" fill="rgb(198, 255, 0)"/>
<rect x="784" y="285" width="18" height="1" fill="rgb(192, 255, 0)"/>
<rect x="784" y="286" width="18" height="1" fill="rgb(187, 255, 0)"/>
<rect x="784" y="287" width="18" height="1" fill="rgb(181, 255, 0)"/>
<rect x="784" y="288" width="18" height="1" fill="rgb(176, 255, 0)"/>
<rect x="784" y="289" width="18" height="1" fill="rgb(170, 255, 0)"/>
<rect x="784" y="290" width="18" height="1" fill="rgb(165, 255, 0)"/>
<rect x="784" y="291" width="18" height="1" fill="rgb(159, 255, 0)"/>
<rect x="784" y="292" width="18" height="1" fill="rgb(154, 255, 0)"/>
<rect x="784" y="293" width="18" height="1" fill="rgb(148, 255, 0)"/>
<rect x="784" y="294" width="18" height="1" fill="rgb(143, 255, 0)"/>
<rect x="784" y="295" width="18" height="1" fill="rgb(137, 255, 0)"/>
<rect x="784" y="296" width="18" height="1" fill="rgb(132, 255, 0)"/>
<rect x="784" y="297" width="18" height="1" fill="rgb(126, 255, 0)"/>
<rect x="784" y="298" width="18" height="1" fill="rgb(121, 255, 0)"/>
<rect x="784" y="299" width="18" height="1" fill="rgb(115, 255, 0)"/>
<rect x="784" y="300" width="18" height="1" fill="rgb(109, 255, 0)"/>
<rect x="784" y="301" width="18" height="1" fill="rgb(104, 255, 0)"/>
<rect x="784" y="302" width="18" height="1" fill="rgb(98, 255, 0)"/>
<rect x="784" y="303" width="18" height="1" fill="rgb(93, 255, 0)"/>
<rect x="784" y="304" width="18" height="1" fill="rgb(87, 255, 0)"/>
<rect x="784" y="305" width="18" height="1" fill="rgb(82, 255, 0)"/>
<rect x="784" y="306" width="18" height="1" fill="rgb(77, 255, 0)"/>
<rect x="784" y="307" width="18" height="1" fill="rgb(72, 255, 0)"/>
<rect x="784" y="308" width="18" height="1" fill="rgb(68, 255, 0)"/>
<rect x="784" y="309" width="18" height="1" fill="rgb(63, 255, 0)"/>
<rect x="784" y="310" width="18" height="1" fill="rgb(58, 255, 0)"/>
<rect x="784" y="311" width="18" height="1" fill="rgb(54, 255, 0)"/>
<rect x="784" y="312" width="18" height="1" fill="rgb(49, 255, 0)"/>
<rect x="784" y="313" width="18" height="1" fill="rgb(45, 255, 0)"/>
<rect x="784" y="314" width="18" height="1" fill="rgb(40, 255, 0)"/>
<rect x="784" y="315" width="18" height="1" fill="rgb(35, 255, 0)"/>
<rect x="784" y="316" width="18" height="1" fill="rgb(31, 255, 0)"/>
<rect x="784" y="317" width="18" height="1" fill="rgb(28, 255, 0)"/>
<rect x="784" y="318" width="18" height="1" fill="rgb(25, 255, 0)"/>
<rect x="784" y="319" width="18" height="1" fill="rgb(22, 255, 0)"/>
<rect x="784" y="320" width="18" height="1" fill="rgb(19, 255, 0)"/>
<rect x="784" y="321" width="18" height="1" fill="rgb(17, 255, 0)"/>
<rect x="784" y="322" width="18" height="1" fill="rgb(14, 255, 0)"/>
<rect x="784" y="323" width="18" height="1" fill="rgb(11, 255, 0)"/>
<rect x="784" y="324" width="18" height="1" fill="rgb(8, 255, 0)"/>
<rect x="784" y="325" width="18" height="1" fill="rgb(6, 255, 0)"/>
<rect x="784" y="326" width="18" height="1" fill="rgb(3, 255, 0)"/>
<rect x="784" y="327" width="18" height="1" fill="rgb(0, 255, 0)"/>
<rect x="784" y="328" width="18" height="1" fill="rgb(0, 255, 5)"/>
<rect x="784" y="329" width="18" height="1" fill="rgb(0, 255, 9)"/>
<rect x="784" y="330" width="18" height="1" fill="rgb(0, 255, 14)"/>
<rect x="784" y="331" width="18" height="1" fill="rgb(0, 255, 18)"/>
<rect x="784" y="332" width="18" height="1" fill="rgb(0, 255, 23)"/>
<rect x="784" y="333" width="18" height="1" fill="rgb(0, 255, 28)"/>
<rect x="784" y="334" width="18" height="1" fill="rgb(0, 255, 32)"/>
<rect x="784" y="335" width="18" height="1" fill="rgb(0, 255, 37)"/>
<rect x="784" y="336" width="18" height="1" fill="rgb(0, 255, 42)"/>
<rect x="784" y="337" width="18" height="1" fill="rgb(0, 255, 46)"/>
<rect x="784" y="338" width="18" height="1" fill="rgb(0, 255, 51)"/>
<rect x="784" y="339" width="18" height="1" fill="rgb(0, 255, 56)"/>
<rect x="784" y="340" width="18" height="1" fill="rgb(0, 255, 62)"/>
<rect x="784" y="341" width="18" height="1" fill="rgb(0, 255, 67)"/>
<rect x="784" y="342" width="18" height="1" fill="rgb(0, 255, 73)"/>
<rect x="784" y="343" width="18" height="1" fill="rgb(0, 255, 79)"/>
<rect x="784" y="344" width="18" height="1" fill="rgb(0, 255, 84)"/>
<rect x="784" y="345" width="18" height="1" fill="rgb(0, 255, 90)"/>
<rect x="784" y="346" width="18" height="1" fill="rgb(0, 255, 95)"/>
<rect x="784" y="347" width="18" height="1" fill="rgb(0, 255, 101)"/>
<rect x="784" y="348" width="18" height="1" fill="rgb(0, 255, 106)"/>
<rect x="784" y="349" width="18" height="1" fill="rgb(0, 255, 112)"/>
<rect x="784" y="350" width="18" height="1" fill="rgb(0, 255, 117)"/>
<rect x="784" y="351" width="18" height="1" fill="rgb(0, 255, 123)"/>
<rect x="784" y="352" width="18" height="1" fill="rgb(0, 255, 128)"/>
<rect x="784" y="353" width="18" height="1" fill="rgb(0, 255, 134)"/>
<rect x="784" y="354" width="18" height="1" fill="rgb(0, 255, 139)"/>
<rect x="784" y="355" width="18" height="1" fill="rgb(0, 255, 145)"/>
<rect x="784" y="356" width="18" height="1" fill="rgb(0, 255, 151)"/>
<rect x="784" y="357" width="18" height="1" fill="rgb(0, 255, 156)"/>
<rect x="784" y="358" width="18" height="1" fill="rgb(0, 255, 162)"/>
<rect x="784" y="359" width="18" height="1" fill="rgb(0, 255, 167)"/>
<rect x="784" y="360" width="18" height="1" fill="rgb(0, 255, 172)"/>
<rect x="784" y="361" width="18" height="1" fill="rgb(0, 255, 178)"/>
<rect x="784" y="362" width="18" height="1" fill="rgb(0, 255, 183)"/>
<rect x="784" y="363" width="18" height="1" fill="rgb(0, 255, 188)"/>
<rect x="784" y="364" width="18" height="1" fill="rgb(0, 255, 193)"/>
<rect x="784" y="365" width="18" height="1" fill="rgb(0, 255, 198)"/>
<rect x="784" y="366" width="18" height="1" fill="rgb(0, 255, 203)"/>
<rect x="784" y="367" width="18" height="1" fill="rgb(0, 255, 208)"/>
<rect x="784" y="368" width="18" height="1" fill="rgb(0, 255, 213)"/>
<rect x="784" y="369" width="18" height="1" fill="rgb(0, 255, 218)"/>
<rect x="784" y="370" width="18" height="1" fill="rgb(0, 255, 223)"/>
<rect x="784" y="371" width="18" height="1" fill="rgb(0, 253, 227)"/>
<rect x="784" y="372" width="18" height="1" fill="rgb(0, 250, 230)"/>
<rect x="784" y="373" width="18" height="1" fill="rgb(0, 248, 232)"/>
<rect x="784" y="374" width="18" height="1" fill="rgb(0, 245, 235)"/>
<rect x="784" y="375" width="18" height="1" fill="rgb(0, 242, 238)"/>
<rect x="784" y="376" width="18" height="1" fill="rgb(0, 239, 241)"/>
<rect x="784" y="377" width="18" height="1" fill="rgb(0, 237, 243)"/>
<rect x="784" y="378" width="18" height="1" fill="rgb(0, 234, 246)"/>
<rect x="784" y="379" width="18" height="1" fill="rgb(0, 231, 249)"/>
<rect x="784" y="380" width="18" height="1" fill="rgb(0, 228, 252)"/>
<rect x="784" y="381" width="18" height="1" fill="rgb(0, 226, 254)"/>
<rect x="784" y="382" width="18" height="1" fill="rgb(0, 221, 255)"/>
<rect x="784" y="383" width="18" height="1" fill="rgb(0, 216, 255)"/>
<rect x="784" y="384" width="18" height="1" fill="rgb(0, 211, 255)"/>
<rect x="784" y="385" width="18" height="1" fill="rgb(0, 206, 255)"/>
<rect x="784" y="386" width="18" height="1" fill="rgb(0, 201, 255)"/>
<rect x="784" y="387" width="18" height="1" fill="rgb(0, 196, 255)"/>
<rect x="784" y="388" width="18" height="1" fill="rgb(0, 190, 255)"/>
<rect x="784" y="389" width="18" height="1" fill="rgb(0, 185, 255)"/>
<rect x="784" y="390" width="18" height="1" fill="rgb(0, 180, 255)"/>
<rect x="784" y="391" width="18" height="1" fill="rgb(0, 175, 255)"/>
<rect x="784" y="392" width="18" height="1" fill="rgb(0, 170, 255)"/>
<rect x="784" y="393" width="18" height="1" fill="rgb(0, 166, 255)"/>
<rect x="784" y="394" width="18" height="1" fill="rgb(0, 161, 255)"/>
<rect x="784" y="395" width="18" height="1" fill="rgb(0, 156, 255)"/>
<rect x="784" y="396" width="18" height="1" fill="rgb(0, 152, 255)"/>
<rect x="784" y="397" width="18" height="1" fill="rgb(0, 147, 255)"/>
<rect x="784" y="398" width="18" height="1" fill="rgb(0, 143, 255)"/>
<rect x="784" y="399" width="18" height="1" fill="rgb(0, 138, 255)"/>
<rect x="784" y="400" width="18" height="1" fill="rgb(0, 133, 255)"/>
<rect x="784" y="401" width="18" height="1" fill="rgb(0, 129, 255)"/>
<rect x="784" y="402" width="18" height="1" fill="rgb(0, 124, 255)"/>
<rect x="784" y="403" width="18" height="1" fill="rgb(0, 119, 255)"/>
<rect x="784" y="404" width="18" height="1" fill="rgb(0, 115, 255)"/>
<rect x="784" y="405" width="18" height="1" fill="rgb(0, 110, 255)"/>
<rect x="784" y="406" width="18" height="1" fill="rgb(0, 106, 255)"/>
<rect x="784" y="407" width="18" height="1" fill="rgb(0, 101, 255)"/>
<rect x="784" y="408" width="18" height="1" fill="rgb(0, 96, 255)"/>
<rect x="784" y="409" width="18" height="1" fill="rgb(0, 92, 255)"/>
<rect x="784" y="410" width="18" height="1" fill="rgb(0, 87, 255)"/>
<rect x="784" y="411" width="18" height="1" fill="rgb(0, 83, 255)"/>
<rect x="784" y="412" width="18" height="1" fill="rgb(0, 78, 255)"/>
<rect x="784" y="413" width="18" height="1" fill="rgb(0, 73, 255)"/>
<rect x="784" y="414" width="18" height="1" fill="rgb(0, 69, 255)"/>
<rect x="784" y="415" width="18" height="1" fill="rgb(0, 64, 255)"/>
<rect x="784" y="416" width="18" height="1" fill="rgb(0, 59, 255)"/>
<rect x="784" y="417" width="18" height="1" fill="rgb(0, 55, 255)"/>
<rect x="784" y="418" width="18" height="1" fill="rgb(0, 50, 255)"/>
<rect x="784" y="419" width="18" height="1" fill="rgb(0, 46, 255)"/>
<rect x="784" y="420" width="18" height="1" fill="rgb(0, 41, 255)"/>
<rect x="784" y="421" width="18" height="1" fill="rgb(0, 36, 255)"/>
<rect x="784" y="422" width="18" height="1" fill="rgb(0, 32, 255)"/>
<rect x="784" y="423" width="18" height="1" fill="rgb(0, 27, 255)"/>
<rect x="784" y="424" width="18" height="1" fill="rgb(0, 23, 255)"/>
<rect x="784" y="425" width="18" height="1" fill="rgb(0, 19, 254)"/>
<rect x="784" y="426" width="18" height="1" fill="rgb(0, 17, 250)"/>
<rect x="784" y="427" width="18" height="1" fill="rgb(0, 15, 247)"/>
<rect x="784" y="428" width="18" height="1" fill="rgb(0, 14, 244)"/>
<rect x="784" y="429" width="18" height="1" fill="rgb(0, 12, 241)"/>
<rect x="784" y="430" width="18" height="1" fill="rgb(0, 10, 237)"/>
<rect x="784" y="431" width="18" height="1" fill="rgb(0, 8, 234)"/>
<rect x="784" y="432" width="18" height="1" fill="rgb(0, 6, 231)"/>
<rect x="784" y="433" width="18" height="1" fill="rgb(0, 4, 228)"/>
<rect x="784" y="434" width="18" height="1" fill="rgb(0, 3, 225)"/>
<rect x="784" y="435" width="18" height="1" fill="rgb(0, 1, 221)"/>
<rect x="784" y="436" width="18" height="1" fill="rgb(2, 0, 218)"/>
<rect x="784" y="437" width="18" height="1" fill="rgb(5, 0, 214)"/>
<rect x="784" y="438" width="18" height="1" fill="rgb(8, 0, 210)"/>
<rect x="784" y="439" width="18" height="1" fill="rgb(12, 0, 207)"/>
<rect x="784" y="440" width="18" height="1" fill="rgb(15, 0, 203)"/>
<rect x="784" y="441" width="18" height="1" fill="rgb(18, 0, 199)"/>
<rect x="784" y="442" width="18" height="1" fill="rgb(21, 0, 196)"/>
<rect x="784" y="443" width="18" height="1" fill="rgb(25, 0, 192)"/>
<rect x="784" y="444" width="18" height="1" fill="rgb(28, 0, 188)"/>
<rect x="784" y="445" width="18" height="1" fill="rgb(31, 0, 185)"/>
<rect x="784" y="446" width="18" height="1" fill="rgb(34, 0, 181)"/>
<rect x="784" y="447" width="18" height="1" fill="rgb(40, 0, 179)"/>
<rect x="784" y="448" width="18" height="1" fill="rgb(47, 0, 178)"/>
<rect x="784" y="449" width="18" height="1" fill="rgb(54, 0, 177)"/>
<rect x="784" y="450" width="18" height="1" fill="rgb(61, 0, 177)"/>
<rect x="784" y="451" width="18" height="1" fill="rgb(68, 0, 176)"/>
<rect x="784" y="452" width="18" height="1" fill="rgb(75, 0, 175)"/>
<rect x="784" y="453" width="18" height="1" fill="rgb(82, 0, 174)"/>
<rect x="784" y="454" width="18" height="1" fill="rgb(89, 0, 173)"/>
<rect x="784" y="455" width="18" height="1" fill="rgb(96, 0, 172)"/>
<rect x="784" y="456" width="18" height="1" fill="rgb(103, 0, 171)"/>
<rect x="784" y="457" width="18" height="1" fill="rgb(109, 0, 170)"/>
<rect x="784" y="458" width="18" height="1" fill="rgb(117, 0, 170)"/>
<rect x="784" y="459" width="18" height="1" fill="rgb(124, 0, 170)"/>
<rect x="784" y="460" width="18" height="1" fill="rgb(132, 0, 170)"/>
<rect x="784" y="461" width="18" height="1" fill="rgb(139, 0, 170)"/>
<rect x="784" y="462" width="18" height="1" fill="rgb(146, 0, 170)"/>
<g fill="#000">
<rect x="783" y="191" width="2" height="273"/>
<rect x="801" y="191" width="2" height="273"/>
<rect x="783" y="191" width="20" height="2"/>
<rect x="783" y="201" width="20" height="2"/>
<rect x="783" y="212" width="20" height="2"/>
<rect x="783" y="223" width="20" height="2"/>
<rect x="783" y="234" width="20" height="2"/>
<rect x="783" y="245" width="20" height="2"/>
<rect x="783" y="256" width="20" height="2"/>
<rect x="783" y="266" width="20" height="2"/>
<rect x="783" y="277" width="20" height="2"/>
<rect x="783" y="288" width="20" height="2"/>
<rect x="783" y="299" width="20" height="2"/>
<rect x="783" y="310" width="20" height="2"/>
<rect x="783" y="321" width="20" height="2"/>
<rect x="783" y="331" width="20" height="2"/>
<rect x="783" y="342" width="20" height="2"/>
<rect x="783" y="353" width="20" height="2"/>
<rect x="783" y="364" width="20" height="2"/>
<rect x="783" y="375" width="20" height="2"/>
<rect x="783" y="386" width="20" height="2"/>
<rect x="783" y="396" width="20" height="2"/>
<rect x="783" y="407" width="20" height="2"/>
<rect x="783" y="418" width="20" height="2"/>
<rect x="783" y="429" width="20" height="2"/>
<rect x="783" y="440" width="20" height="2"/>
<rect x="783" y="451" width="20" height="2"/>
<rect x="783" y="462" width="20" height="2"/>
</g></g>
<text x="238.5" y="101" font-size="27" class="thin" textLength="125" lengthAdjust="spacingAndGlyphs" stroke="#000" stroke-width="0.5">turbulent</text>
<text x="381" y="101" font-size="27" class="thin" textLength="119.5" lengthAdjust="spacingAndGlyphs" stroke="#000" stroke-width="0.5">diffusion</text>
<text x="519.5" y="101" font-size="27" class="thin" textLength="146.5" lengthAdjust="spacingAndGlyphs" stroke="#000" stroke-width="0.5">coefficient</text>
<text x="116.0" y="391.3" font-size="19.6" textLength="10.8" lengthAdjust="spacingAndGlyphs" stroke="#000" stroke-width="0.35">5</text>
<text x="105.4" y="311.6" font-size="19.6" textLength="21.4" lengthAdjust="spacingAndGlyphs" stroke="#000" stroke-width="0.35">10</text>
<text x="105.4" y="231.9" font-size="19.6" textLength="21.4" lengthAdjust="spacingAndGlyphs" stroke="#000" stroke-width="0.35">15</text>
<text x="179.9" y="485" font-size="19.6" textLength="11.0" lengthAdjust="spacingAndGlyphs" stroke="#000" stroke-width="0.35">4</text>
<text x="230.7" y="485" font-size="19.6" textLength="11.0" lengthAdjust="spacingAndGlyphs" stroke="#000" stroke-width="0.35">8</text>
<text x="276.2" y="485" font-size="19.6" textLength="21.6" lengthAdjust="spacingAndGlyphs" stroke="#000" stroke-width="0.35">12</text>
<text x="327.1" y="485" font-size="19.6" textLength="21.6" lengthAdjust="spacingAndGlyphs" stroke="#000" stroke-width="0.35">16</text>
<text x="377.9" y="485" font-size="19.6" textLength="21.6" lengthAdjust="spacingAndGlyphs" stroke="#000" stroke-width="0.35">20</text>
<text x="428.7" y="485" font-size="19.6" textLength="21.6" lengthAdjust="spacingAndGlyphs" stroke="#000" stroke-width="0.35">24</text>
<text x="479.5" y="485" font-size="19.6" textLength="21.6" lengthAdjust="spacingAndGlyphs" stroke="#000" stroke-width="0.35">28</text>
<text x="530.3" y="485" font-size="19.6" textLength="21.6" lengthAdjust="spacingAndGlyphs" stroke="#000" stroke-width="0.35">32</text>
<text x="581.2" y="485" font-size="19.6" textLength="21.6" lengthAdjust="spacingAndGlyphs" stroke="#000" stroke-width="0.35">36</text>
<text x="632.0" y="485" font-size="19.6" textLength="21.6" lengthAdjust="spacingAndGlyphs" stroke="#000" stroke-width="0.35">40</text>
<text x="682.8" y="485" font-size="19.6" textLength="21.6" lengthAdjust="spacingAndGlyphs" stroke="#000" stroke-width="0.35">44</text>
<text x="733.6" y="485" font-size="19.6" textLength="21.6" lengthAdjust="spacingAndGlyphs" stroke="#000" stroke-width="0.35">48</text>
<text x="47.5" y="496" font-size="18.6" textLength="96.4" lengthAdjust="spacingAndGlyphs" stroke="#000" stroke-width="0.35">(×1000 m)</text>
<text x="684.5" y="507" font-size="17.4" textLength="96.2" lengthAdjust="spacingAndGlyphs" stroke="#000" stroke-width="0.35">(×1000 m)</text>
<g transform="translate(376,536.9)">
<text x="-0.6" y="0" font-size="25.3" textLength="13.2" lengthAdjust="spacingAndGlyphs" stroke="#fff" stroke-width="0.2">X</text>
<text x="11.6" y="-2.3" font-size="25.3" textLength="22" lengthAdjust="spacingAndGlyphs" stroke="#fff" stroke-width="0.2">-</text>
<text x="33.4" y="0" font-size="25.3" textLength="119.6" lengthAdjust="spacingAndGlyphs" stroke="#fff" stroke-width="0.2">coordinate</text>
</g>
<g transform="translate(90.9,381) rotate(-90)">
<text x="-0.6" y="0" font-size="25.3" textLength="13.2" lengthAdjust="spacingAndGlyphs" stroke="#000" stroke-width="0.3">Z</text>
<text x="11.6" y="-2.3" font-size="25.3" textLength="22" lengthAdjust="spacingAndGlyphs" stroke="#000" stroke-width="0.3">-</text>
<text x="33.4" y="0" font-size="25.3" textLength="119.6" lengthAdjust="spacingAndGlyphs" stroke="#000" stroke-width="0.3">coordinate</text>
</g>
<text x="304.4" y="582.8" font-size="18.9" textLength="80.4" lengthAdjust="spacingAndGlyphs" stroke="#000" stroke-width="0.35">CONTOUR</text>
<text x="393.4" y="582.8" font-size="18.9" textLength="77.4" lengthAdjust="spacingAndGlyphs" stroke="#000" stroke-width="0.35">INTERVAL</text>
<text x="480.2" y="582.8" font-size="18.9" textLength="14.2" lengthAdjust="spacingAndGlyphs" stroke="#000" stroke-width="0.35">=</text>
<text x="503.2" y="582.8" font-size="18.9" textLength="97.4" lengthAdjust="spacingAndGlyphs" stroke="#000" stroke-width="0.35">1.000E+02</text>
<text x="633.6" y="609" font-size="16.6" class="thin" textLength="137" lengthAdjust="spacingAndGlyphs" stroke="#000" stroke-width="0.5">t=2.4912e+06 s</text>
<text x="22" y="651.5" font-size="8.6" textLength="64.8" lengthAdjust="spacingAndGlyphs">./gpview-new</text>
<text x="96.6" y="651.5" font-size="8.6" textLength="64" lengthAdjust="spacingAndGlyphs">2012-01-09</text>
<text x="594.4" y="651.5" font-size="8.4" textLength="273.6" lengthAdjust="spacingAndGlyphs">MarsCond_Km.nc@Km,x=0:50000,z=0:20000,t=2491200</text>
<text x="810.2" y="468.0" font-size="16.8" textLength="24.4" lengthAdjust="spacingAndGlyphs" stroke="#000" stroke-width="0.45">0.0</text>
<text x="810.2" y="454.4" font-size="16.8" textLength="35.2" lengthAdjust="spacingAndGlyphs" stroke="#000" stroke-width="0.45">12.5</text>
<text x="810.2" y="440.9" font-size="16.8" textLength="35.2" lengthAdjust="spacingAndGlyphs" stroke="#000" stroke-width="0.45">25.0</text>
<text x="810.2" y="427.4" font-size="16.8" textLength="35.2" lengthAdjust="spacingAndGlyphs" stroke="#000" stroke-width="0.45">37.5</text>
<text x="810.2" y="413.8" font-size="16.8" textLength="35.2" lengthAdjust="spacingAndGlyphs" stroke="#000" stroke-width="0.45">50.0</text>
<text x="810.2" y="400.2" font-size="16.8" textLength="35.2" lengthAdjust="spacingAndGlyphs" stroke="#000" stroke-width="0.45">62.5</text>
<text x="810.2" y="386.7" font-size="16.8" textLength="35.2" lengthAdjust="spacingAndGlyphs" stroke="#000" stroke-width="0.45">75.0</text>
<text x="810.2" y="373.1" font-size="16.8" textLength="35.2" lengthAdjust="spacingAndGlyphs" stroke="#000" stroke-width="0.45">87.5</text>
<text x="810.2" y="359.6" font-size="16.8" textLength="45.8" lengthAdjust="spacingAndGlyphs" stroke="#000" stroke-width="0.45">100.0</text>
<text x="810.2" y="346.1" font-size="16.8" textLength="45.8" lengthAdjust="spacingAndGlyphs" stroke="#000" stroke-width="0.45">112.5</text>
<text x="810.2" y="332.5" font-size="16.8" textLength="45.8" lengthAdjust="spacingAndGlyphs" stroke="#000" stroke-width="0.45">125.0</text>
<text x="810.2" y="318.9" font-size="16.8" textLength="45.8" lengthAdjust="spacingAndGlyphs" stroke="#000" stroke-width="0.45">137.5</text>
<text x="810.2" y="305.4" font-size="16.8" textLength="45.8" lengthAdjust="spacingAndGlyphs" stroke="#000" stroke-width="0.45">150.0</text>
<text x="810.2" y="291.9" font-size="16.8" textLength="45.8" lengthAdjust="spacingAndGlyphs" stroke="#000" stroke-width="0.45">162.5</text>
<text x="810.2" y="278.3" font-size="16.8" textLength="45.8" lengthAdjust="spacingAndGlyphs" stroke="#000" stroke-width="0.45">175.0</text>
<text x="810.2" y="264.8" font-size="16.8" textLength="45.8" lengthAdjust="spacingAndGlyphs" stroke="#000" stroke-width="0.45">187.5</text>
<text x="810.2" y="251.2" font-size="16.8" textLength="45.8" lengthAdjust="spacingAndGlyphs" stroke="#000" stroke-width="0.45">200.0</text>
<text x="810.2" y="237.6" font-size="16.8" textLength="45.8" lengthAdjust="spacingAndGlyphs" stroke="#000" stroke-width="0.45">212.5</text>
<text x="810.2" y="224.1" font-size="16.8" textLength="45.8" lengthAdjust="spacingAndGlyphs" stroke="#000" stroke-width="0.45">225.0</text>
<text x="810.2" y="210.6" font-size="16.8" textLength="45.8" lengthAdjust="spacingAndGlyphs" stroke="#000" stroke-width="0.45">237.5</text>
<text x="810.2" y="197.0" font-size="16.8" textLength="45.8" lengthAdjust="spacingAndGlyphs" stroke="#000" stroke-width="0.45">250.0</text>
</svg>
</body></html>
